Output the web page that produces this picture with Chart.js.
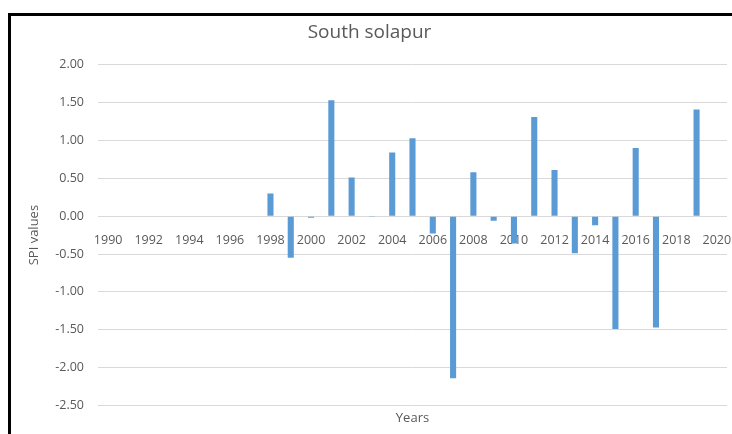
<!DOCTYPE html>
<html>
<head>
<meta charset="utf-8">
<script src="https://cdn.jsdelivr.net/npm/chart.js@4.4.1/dist/chart.umd.min.js"></script>
<style>
  html, body { margin: 0; padding: 0; background: #fff; }
  #wrap { position: relative; width: 732px; height: 434px; overflow: hidden; }
  #frame { position: absolute; left: 8px; top: 13px; width: 740px; height: 440px;
           border-top: 3px solid #000; border-left: 3px solid #000; pointer-events: none; }
  canvas { position: absolute; left: 0; top: 0; }
</style>
</head>
<body>
<div id="wrap">
  <canvas id="chart" width="732" height="434"></canvas>
  <div id="frame"></div>
</div>
<script>
// Excel-ish colours
const barBlue = "#5b9bd5";
const textGray = "#595959";
const gridGray = "#d9d9d9";

const years = ['1990','1991','1992','1993','1994','1995','1996','1997','1998','1999',
  '2000','2001','2002','2003','2004','2005','2006','2007','2008','2009',
  '2010','2011','2012','2013','2014','2015','2016','2017','2018','2019','2020'];
const spiValues = [null, null, null, null, null, null, null, null, 0.30, -0.55,
  -0.02, 1.53, 0.51, -0.01, 0.84, 1.03, -0.23, -2.14, 0.58, -0.06,
  -0.36, 1.31, 0.61, -0.49, -0.12, -1.49, 0.90, -1.47, null, 1.41, null];
const yMin = -2.5;
const yMax = 2;
const yStep = 0.5;

const ctx = document.getElementById('chart').getContext('2d');
new Chart(ctx, {
  type: 'bar',
  data: {
    labels: years,
    datasets: [{
      label: 'SPI',
      data: spiValues,
      backgroundColor: barBlue,
      barPercentage: 0.3,
      categoryPercentage: 1
    }]
  },
  options: {
    responsive: false,
    animation: false,
    layout: { padding: { left: 12, right: 5, top: 14, bottom: 8 } },
    plugins: {
      legend: { display: false },
      tooltip: { enabled: false },
      title: {
        display: true,
        text: 'South solapur',
        color: textGray,
        font: { family: 'Open Sans', size: 19, weight: 'normal' },
        padding: { top: 7, bottom: 21 }
      },
      subtitle: {
        display: true,
        text: 'Years',
        position: 'bottom',
        fullSize: false,
        color: textGray,
        font: { family: 'Open Sans', size: 13, weight: 'normal' },
        padding: { top: 5, bottom: 0 }
      }
    },
    scales: {
      x: {
        position: { y: 0 },
        grid: { display: false, drawTicks: false },
        border: { display: false },
        ticks: {
          color: textGray,
          font: { family: 'Open Sans', size: 12.5 },
          autoSkip: false,
          maxRotation: 0,
          padding: 17,
          callback: function (v, i) { return i % 2 === 0 ? years[i] : ''; }
        },
        // let the last label hang past the plot like Excel does
        afterFit: function (scale) { scale.paddingLeft = 0; scale.paddingRight = 0; }
      },
      y: {
        min: yMin,
        max: yMax,
        grid: { color: gridGray, drawTicks: false },
        border: { display: false },
        ticks: {
          stepSize: yStep,
          color: textGray,
          font: { family: 'Open Sans', size: 12.5 },
          padding: 14,
          callback: function (v) { return v.toFixed(2); }
        },
        title: {
          display: true,
          text: 'SPI values',
          color: textGray,
          font: { family: 'Open Sans', size: 13 },
          padding: { top: 14, bottom: 0 }
        },
        afterFit: function (scale) { scale.width = 86; }
      }
    }
  }
});
</script>
</body>
</html>
